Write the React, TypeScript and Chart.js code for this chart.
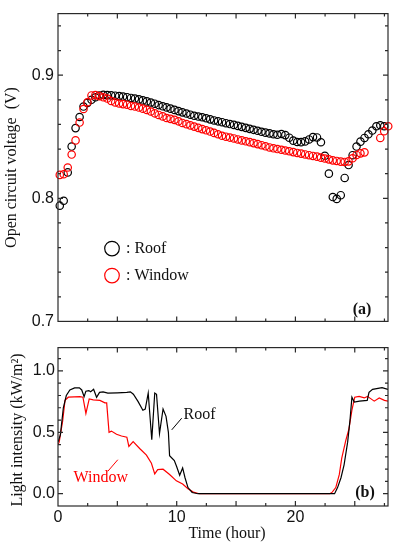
import React, { useEffect, useRef } from "react";
import { Chart, registerables } from "chart.js";

Chart.register(...registerables);

// ---------- Data ----------
// (a) Open circuit voltage, sampled every 20 minutes (hours)
const VOC_TIME = [
  0.15, 0.48, 0.82, 1.15, 1.48, 1.82, 2.15, 2.48, 2.82, 3.15, 3.48, 3.82, 4.15, 4.48, 4.82,
  5.15, 5.48, 5.82, 6.15, 6.48, 6.82, 7.15, 7.48, 7.82, 8.15, 8.48, 8.82, 9.15, 9.48, 9.82,
  10.15, 10.48, 10.82, 11.15, 11.48, 11.82, 12.15, 12.48, 12.82, 13.15, 13.48, 13.82, 14.15,
  14.48, 14.82, 15.15, 15.48, 15.82, 16.15, 16.48, 16.82, 17.15, 17.48, 17.82, 18.15, 18.48,
  18.82, 19.15, 19.48, 19.82, 20.15, 20.48, 20.82, 21.15, 21.48, 21.82, 22.15, 22.48, 22.82,
  23.15, 23.48, 23.82, 24.15, 24.48, 24.82, 25.15, 25.48, 25.82, 26.15, 26.48, 26.82, 27.15,
  27.48, 27.82,
];

const ROOF_VOC = [
  0.794, 0.798, 0.821, 0.842, 0.857, 0.866, 0.8745, 0.8775, 0.88, 0.882, 0.8835, 0.884, 0.8838,
  0.8836, 0.8833, 0.883, 0.8826, 0.8821, 0.8815, 0.881, 0.8803, 0.8795, 0.8787, 0.8778, 0.8768,
  0.8757, 0.8747, 0.8738, 0.8728, 0.8718, 0.8708, 0.8698, 0.8688, 0.8679, 0.867, 0.8664, 0.8658,
  0.865, 0.8641, 0.8632, 0.8625, 0.8618, 0.861, 0.8603, 0.8596, 0.8588, 0.858, 0.8572, 0.8564,
  0.8556, 0.8548, 0.854, 0.8533, 0.8527, 0.852, 0.8516, 0.8522, 0.8513, 0.8492, 0.8468, 0.8457,
  0.8456, 0.8462, 0.8478, 0.8497, 0.8494, 0.8455, 0.8345, 0.82, 0.801, 0.7995, 0.8025, 0.8165,
  0.827, 0.835, 0.842, 0.846, 0.849, 0.852, 0.855, 0.8585, 0.8593, 0.8585, null,
];

const WINDOW_VOC = [
  0.819, 0.8195, 0.825, 0.8355, 0.847, 0.8615, 0.8725, 0.878, 0.8835, 0.8838, 0.883, 0.882,
  0.881, 0.879, 0.8778, 0.877, 0.8765, 0.876, 0.875, 0.8745, 0.8737, 0.8728, 0.8718, 0.8705,
  0.869, 0.8677, 0.8665, 0.8652, 0.8645, 0.8637, 0.8625, 0.8612, 0.8602, 0.8592, 0.8582, 0.8572,
  0.8562, 0.8552, 0.8542, 0.8531, 0.852, 0.8508, 0.85, 0.8493, 0.8486, 0.8478, 0.847, 0.8463,
  0.8456, 0.8448, 0.844, 0.8431, 0.8422, 0.8413, 0.8406, 0.84, 0.8394, 0.8388, 0.8382, 0.8375,
  0.8368, 0.8363, 0.8356, 0.835, 0.8344, 0.8338, 0.833, 0.8323, 0.8316, 0.8308, 0.8303, 0.8298,
  0.8295, 0.83, 0.8325, 0.8352, 0.8365, 0.8373, null, null, null, 0.849, 0.8545, 0.8585,
];

// (b) Light intensity (kW/m2)
const ROOF_LIGHT_TIME = [
  0.0, 0.2, 0.45, 0.7, 1.0, 1.4, 1.8, 2.0, 2.2, 2.35, 2.6, 2.75, 3.0, 3.25, 3.5, 3.8, 4.2, 5.0,
  5.8, 6.1, 6.35, 6.75, 7.15, 7.35, 7.6, 7.9, 8.15, 8.3, 8.55, 8.85, 9.1, 9.3, 9.4, 9.8, 10.0,
  10.25, 10.5, 10.7, 10.95, 11.3, 11.8, 23.3, 23.55, 23.84, 24.1, 24.4, 24.6, 24.76, 24.96, 25.4,
  26.05, 26.2, 26.5, 27.3, 27.8,
];
const ROOF_LIGHT = [
  0.42, 0.48, 0.7, 0.8, 0.845, 0.862, 0.862, 0.845, 0.79, 0.835, 0.84, 0.83, 0.85, 0.785, 0.825,
  0.83, 0.82, 0.822, 0.825, 0.83, 0.81, 0.75, 0.68, 0.69, 0.82, 0.44, 0.82, 0.81, 0.49, 0.69,
  0.63, 0.5, 0.31, 0.27, 0.22, 0.15, 0.21, 0.13, 0.05, 0.01, 0.0, 0.0, 0.05, 0.13, 0.235, 0.42,
  0.6, 0.786, 0.746, 0.754, 0.76, 0.825, 0.85, 0.864, 0.85,
];

const WINDOW_LIGHT_TIME = [
  0.0, 0.1, 0.39, 0.59, 0.87, 1.85, 2.1, 2.35, 2.63, 2.97, 3.53, 3.95, 4.1, 4.3, 4.5, 4.93, 5.35,
  5.8, 5.97, 6.33, 6.9, 7.45, 7.87, 8.15, 8.4, 8.85, 9.4, 9.97, 10.5, 10.95, 11.4, 11.9, 22.9,
  23.1, 23.4, 23.7, 23.9, 24.24, 24.5, 24.76, 25.0, 25.37, 25.8, 26.07, 26.64, 27.06, 27.5, 27.8,
];
const WINDOW_LIGHT = [
  0.4, 0.42, 0.59, 0.76, 0.786, 0.79, 0.786, 0.654, 0.772, 0.765, 0.76, 0.74, 0.74, 0.5, 0.51,
  0.484, 0.47, 0.46, 0.385, 0.424, 0.366, 0.314, 0.248, 0.162, 0.196, 0.2, 0.157, 0.105, 0.079,
  0.04, 0.013, 0.0, 0.0, 0.013, 0.05, 0.157, 0.288, 0.432, 0.523, 0.68, 0.786, 0.793, 0.78, 0.793,
  0.754, 0.78, 0.76, 0.754,
];

const VOC_TICKS = [0.7, 0.8, 0.9];
const LIGHT_TICKS = [0, 0.5, 1.0];
const TIME_TICKS = [0, 10, 20];

// ---------- Styles ----------
const SANS = "'Liberation Sans', Arial, sans-serif";
const SERIF = "'Liberation Serif', 'Times New Roman', serif";
const AXIS = "#2a2a2a";

type FrameOpts = {
  xStep: number;
  xMajorEvery: number;
  xMax: number;
  yStart: number;
  yStep: number;
  yCount: number;
  isMajorY: (i: number) => boolean;
};

function drawFrame(chart: any, o: FrameOpts) {
  const { ctx, chartArea } = chart;
  const { left, right, top, bottom } = chartArea;
  const xs = chart.scales.x;
  const ys = chart.scales.y;
  ctx.save();
  ctx.strokeStyle = AXIS;
  ctx.lineWidth = 1.2;
  ctx.strokeRect(left, top, right - left, bottom - top);
  ctx.beginPath();
  for (let i = 0; i * o.xStep <= o.xMax; i++) {
    const px = xs.getPixelForValue(i * o.xStep);
    if (px <= left + 0.5 || px >= right - 0.5) continue;
    const L = i % o.xMajorEvery === 0 ? 5 : 3;
    ctx.moveTo(px, bottom);
    ctx.lineTo(px, bottom - L);
    ctx.moveTo(px, top);
    ctx.lineTo(px, top + L);
  }
  for (let i = 0; i < o.yCount; i++) {
    const py = ys.getPixelForValue(o.yStart + i * o.yStep);
    if (py <= top + 0.5 || py >= bottom - 0.5) continue;
    const L = o.isMajorY(i) ? 5 : 3;
    ctx.moveTo(left, py);
    ctx.lineTo(left + L, py);
    ctx.moveTo(right, py);
    ctx.lineTo(right - L, py);
  }
  ctx.stroke();
  ctx.restore();
}

function rotatedText(ctx: any, text: string, x: number, y: number, font: string, color: string) {
  ctx.save();
  ctx.translate(x, y);
  ctx.rotate(-Math.PI / 2);
  ctx.font = font;
  ctx.fillStyle = color;
  ctx.textAlign = "center";
  ctx.textBaseline = "middle";
  ctx.fillText(text, 0, 0);
  ctx.restore();
}

const topPlugin = {
  id: "topFrame",
  afterDraw(chart: any) {
    drawFrame(chart, {
      xStep: 2.5,
      xMajorEvery: 2,
      xMax: 27.8,
      yStart: 0.7,
      yStep: 0.02,
      yCount: 13,
      isMajorY: (i) => i % 5 === 0,
    });
    const { ctx, chartArea } = chart;
    rotatedText(ctx, "Open circuit voltage  (V)", 12, (chartArea.top + chartArea.bottom) / 2, `16px ${SERIF}`, "#111");
    // legend
    const lx = chartArea.left + 54;
    const items = [
      { c: "#000", t: ": Roof", y: chartArea.top + 235 },
      { c: "#ff0000", t: ": Window", y: chartArea.top + 262 },
    ];
    ctx.save();
    ctx.lineWidth = 1.2;
    ctx.font = `16px ${SERIF}`;
    ctx.textBaseline = "middle";
    ctx.textAlign = "left";
    for (const it of items) {
      ctx.strokeStyle = it.c;
      ctx.beginPath();
      ctx.arc(lx, it.y, 7.3, 0, Math.PI * 2);
      ctx.stroke();
      ctx.fillStyle = "#111";
      ctx.fillText(it.t, lx + 14, it.y);
    }
    ctx.font = `bold 16px ${SERIF}`;
    ctx.textAlign = "center";
    ctx.fillText("(a)", 362, 310);
    ctx.restore();
  },
};

const bottomPlugin = {
  id: "bottomFrame",
  afterDraw(chart: any) {
    drawFrame(chart, {
      xStep: 2.5,
      xMajorEvery: 2,
      xMax: 27.8,
      yStart: -0.1,
      yStep: 0.1,
      yCount: 13,
      isMajorY: (i) => (i - 1) % 5 === 0,
    });
    const { ctx, chartArea } = chart;
    const xs = chart.scales.x;
    const ys = chart.scales.y;
    rotatedText(ctx, "Light intensity (kW/m²)", 18, 95, `16px ${SERIF}`, "#111");
    ctx.save();
    ctx.font = `16px ${SERIF}`;
    ctx.fillStyle = "#111";
    ctx.textAlign = "center";
    ctx.textBaseline = "middle";
    ctx.fillText("Time (hour)", (chartArea.left + chartArea.right) / 2 + 4, 199);
    // annotations
    ctx.fillText("Roof", xs.getPixelForValue(11.93), ys.getPixelForValue(0.64));
    ctx.strokeStyle = "#000";
    ctx.lineWidth = 1;
    ctx.beginPath();
    ctx.moveTo(xs.getPixelForValue(9.58), ys.getPixelForValue(0.52));
    ctx.lineTo(xs.getPixelForValue(10.42), ys.getPixelForValue(0.615));
    ctx.stroke();
    ctx.fillStyle = "#ff0000";
    ctx.fillText("Window", xs.getPixelForValue(3.61), ys.getPixelForValue(0.128));
    ctx.strokeStyle = "#ff0000";
    ctx.beginPath();
    ctx.moveTo(xs.getPixelForValue(4.2), ys.getPixelForValue(0.183));
    ctx.lineTo(xs.getPixelForValue(5.04), ys.getPixelForValue(0.277));
    ctx.stroke();
    ctx.fillStyle = "#111";
    ctx.font = `bold 16px ${SERIF}`;
    ctx.fillText("(b)", 365, 493 - 335);
    ctx.restore();
  },
};

const hiddenGrid = { display: false, drawTicks: false };

export default function App() {
  const topRef = useRef<HTMLCanvasElement>(null);
  const botRef = useRef<HTMLCanvasElement>(null);

  useEffect(() => {
    const top = new Chart(topRef.current as HTMLCanvasElement, {
      type: "scatter",
      data: {
        datasets: [
          {
            label: "Window",
            data: VOC_TIME.map((t, i) => ({ x: t, y: WINDOW_VOC[i] })) as any,
            pointRadius: 3.7,
            pointBorderColor: "#ff0000",
            pointBackgroundColor: "rgba(0,0,0,0)",
            pointBorderWidth: 1.2,
            clip: false as any,
            order: 0,
          },
          {
            label: "Roof",
            data: VOC_TIME.map((t, i) => ({ x: t, y: ROOF_VOC[i] })) as any,
            pointRadius: 3.7,
            pointBorderColor: "#000000",
            pointBackgroundColor: "rgba(0,0,0,0)",
            pointBorderWidth: 1.2,
            clip: false as any,
            order: 1,
          },
        ],
      },
      options: {
        animation: false,
        responsive: false,
        maintainAspectRatio: false,
        layout: { padding: { top: 10, right: 8, bottom: 10, left: 0 } },
        plugins: { legend: { display: false }, tooltip: { enabled: false } },
        scales: {
          x: {
            type: "linear",
            min: 0,
            max: 27.8,
            ticks: { display: false },
            grid: hiddenGrid,
            border: { display: false },
            afterFit: (s: any) => {
              s.height = 0;
            },
          },
          y: {
            type: "linear",
            min: 0.7,
            max: 0.95,
            afterBuildTicks: (s: any) => {
              s.ticks = VOC_TICKS.map((v) => ({ value: v }));
            },
            ticks: {
              callback: (v: any) => Number(v).toFixed(1),
              font: { family: SANS, size: 16 },
              color: "#111",
              padding: 4,
            },
            grid: hiddenGrid,
            border: { display: false },
            afterFit: (s: any) => {
              s.width = 58;
            },
          },
        },
      } as any,
      plugins: [topPlugin],
    });

    const bottom = new Chart(botRef.current as HTMLCanvasElement, {
      type: "scatter",
      data: {
        datasets: [
          {
            label: "Roof",
            data: ROOF_LIGHT_TIME.map((t, i) => ({ x: t, y: ROOF_LIGHT[i] })) as any,
            showLine: true,
            pointRadius: 0,
            borderColor: "#000000",
            borderWidth: 1.2,
            tension: 0,
            order: 0,
          },
          {
            label: "Window",
            data: WINDOW_LIGHT_TIME.map((t, i) => ({ x: t, y: WINDOW_LIGHT[i] })) as any,
            showLine: true,
            pointRadius: 0,
            borderColor: "#ff0000",
            borderWidth: 1.2,
            tension: 0,
            order: 1,
          },
        ],
      },
      options: {
        animation: false,
        responsive: false,
        maintainAspectRatio: false,
        layout: { padding: { top: 7, right: 8, bottom: 0, left: 0 } },
        plugins: { legend: { display: false }, tooltip: { enabled: false } },
        scales: {
          x: {
            type: "linear",
            min: 0,
            max: 27.8,
            afterBuildTicks: (s: any) => {
              s.ticks = TIME_TICKS.map((v) => ({ value: v }));
            },
            ticks: {
              callback: (v: any) => String(v),
              font: { family: SANS, size: 16 },
              color: "#111",
              padding: 2,
              maxRotation: 0,
            },
            grid: hiddenGrid,
            border: { display: false },
            afterFit: (s: any) => {
              s.height = 44;
            },
          },
          y: {
            type: "linear",
            min: -0.1,
            max: 1.19,
            afterBuildTicks: (s: any) => {
              s.ticks = LIGHT_TICKS.map((v) => ({ value: v }));
            },
            ticks: {
              callback: (v: any) => Number(v).toFixed(1),
              font: { family: SANS, size: 16 },
              color: "#111",
              padding: 3,
            },
            grid: hiddenGrid,
            border: { display: false },
            afterFit: (s: any) => {
              s.width = 58;
            },
          },
        },
      } as any,
      plugins: [bottomPlugin],
    });

    return () => {
      top.destroy();
      bottom.destroy();
    };
  }, []);

  return (
    <div style={{ position: "absolute", left: 0, top: 0, width: 396, height: 550, background: "#fff" }}>
      <canvas ref={topRef} width={396} height={335} style={{ position: "absolute", left: 0, top: 0, width: 396, height: 335 }} />
      <canvas ref={botRef} width={396} height={215} style={{ position: "absolute", left: 0, top: 335, width: 396, height: 215 }} />
    </div>
  );
}
